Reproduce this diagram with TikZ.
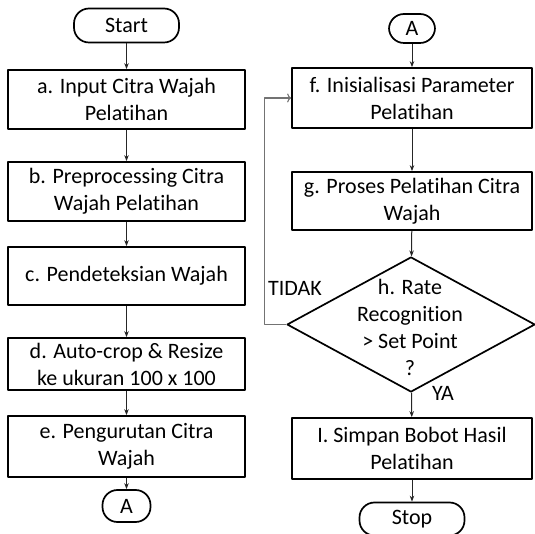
\documentclass[tikz,border=0pt]{standalone}
\usepackage{fontspec}
\setmainfont{Carlito}[Ligatures=NoCommon]
\usetikzlibrary{shapes.geometric,arrows.meta}
\begin{document}
\begin{tikzpicture}[x=1pt,y=-1pt,>={Stealth[length=6pt,width=4.5pt]},line join=round,
    font=\fontsize{22}{27}\selectfont,
    box/.style={draw,line width=1.7pt,align=center,inner sep=0pt},
    term/.style={draw,line width=1.7pt,rounded corners=15pt,inner sep=0pt},
    arr/.style={->,line width=1pt,draw=black!85},
    fb/.style={-{To[length=4pt,width=9pt]},line width=1.1pt,draw=black!55}]
    \def\xl{126.5} \def\xr{412} \def\wl{237pt} \def\wr{240pt}
    \useasboundingbox (0,0) rectangle (535,534);
    \node[term,minimum width=105pt,minimum height=34pt] (start) at (\xl,25.5) {Start};
    \node[box,minimum width=\wl,minimum height=59pt] (a) at (\xl,99.5) {a. Input Citra Wajah\\Pelatihan};
    \node[box,minimum width=\wl,minimum height=59pt] (b) at (\xl,191.5) {b. Preprocessing Citra\\Wajah Pelatihan};
    \node[box,minimum width=\wl,minimum height=58pt] (c) at (\xl,276) {c. Pendeteksian Wajah};
    \node[box,minimum width=\wl,minimum height=52pt] (d) at (\xl,364) {d. Auto-crop \& Resize\\ke ukuran 100 x 100};
    \node[box,minimum width=\wl,minimum height=61pt] (e) at (\xl,446.5) {e. Pengurutan Citra\\Wajah};
    \node[term,minimum width=48pt,minimum height=32pt] (A1) at (\xl,506) {A};
    \node[term,minimum width=46pt,minimum height=29pt] (A2) at (\xr,28.5) {A};
    \node[box,minimum width=\wr,minimum height=60pt] (f) at (\xr,98) {f. Inisialisasi Parameter\\Pelatihan};
    \node[box,minimum width=\wr,minimum height=58pt] (g) at (\xr,201) {g. Proses Pelatihan Citra\\Wajah};
    \node[draw,diamond,line width=1.7pt,inner sep=0pt,minimum width=248pt,minimum height=135pt] (h) at (411,324.5) {};
    \node[align=center] (htext) at (410,327) {h. Rate\\Recognition\\> Set Point\\?};
    \node[box,minimum width=\wr,minimum height=61pt] (i) at (\xr,448.5) {I. Simpan Bobot Hasil\\Pelatihan};
    \node[term,minimum width=105pt,minimum height=33pt] (stop) at (\xr,519) {Stop};
    \node (tidak) at (295,288) {TIDAK};
    \node (ya) at (443,393) {YA};
    \draw[arr] (start) -- (a);
    \draw[arr] (a) -- (b);
    \draw[arr] (b) -- (c);
    \draw[arr] (c) -- (d);
    \draw[arr] (d) -- (e);
    \draw[arr] (e) -- (A1);
    \draw[arr] (A2) -- (f);
    \draw[arr] (f) -- (g);
    \draw[arr] (g) -- (h);
    \draw[arr] (h) -- (i);
    \draw[arr] (i) -- (stop);
    \draw[fb] (h.west) -- ++(-22,0) |- (f.west);
\end{tikzpicture}
\end{document}
